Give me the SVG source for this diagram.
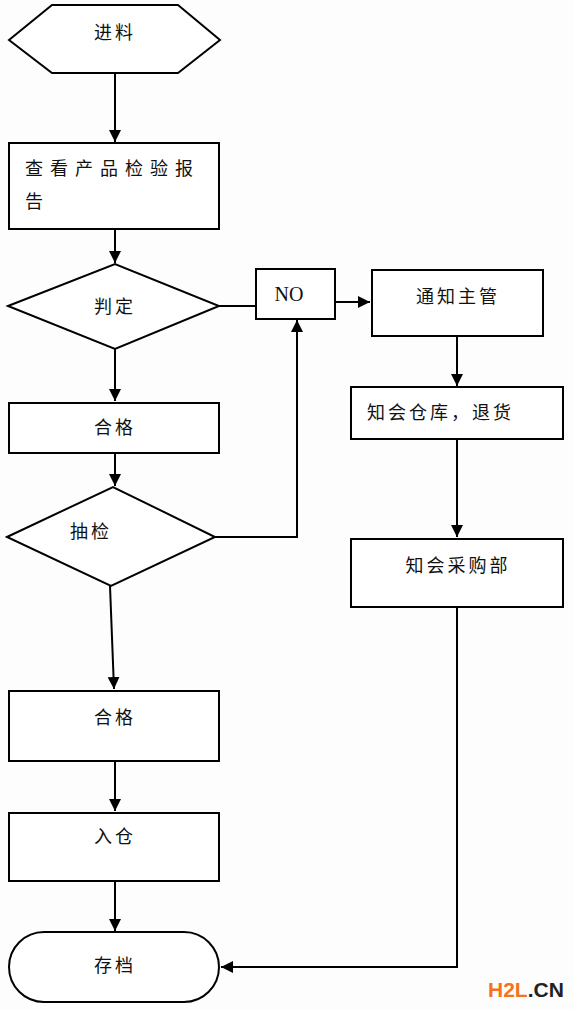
<svg xmlns="http://www.w3.org/2000/svg" width="574" height="1010" viewBox="0 0 574 1010">
<style>
.s{fill:#fff;stroke:#000;stroke-width:2}
.t{font-family:"Noto Sans CJK SC","Liberation Sans",sans-serif;font-size:18px;fill:#111;text-anchor:middle;dominant-baseline:central;letter-spacing:3px}
.c{fill:none;stroke:#000;stroke-width:2}
</style>
<defs>
<marker id="a" markerUnits="userSpaceOnUse" markerWidth="12" markerHeight="12" viewBox="0 0 12 12" refX="12" refY="6" orient="auto">
<path d="M0,0 L12,6 L0,12 Z" fill="#000"/>
</marker>
</defs>
<rect width="574" height="1010" fill="#fdfdfd"/>
<g id="connectors">
<path class="c" d="M115,73 V142" marker-end="url(#a)"/>
<path class="c" d="M115,229 V263" marker-end="url(#a)"/>
<path class="c" d="M219,306 H256"/>
<path class="c" d="M335,302 H370" marker-end="url(#a)"/>
<path class="c" d="M457,336 V386" marker-end="url(#a)"/>
<path class="c" d="M457,439 V537" marker-end="url(#a)"/>
<path class="c" d="M115,349 V401" marker-end="url(#a)"/>
<path class="c" d="M115,453 V486" marker-end="url(#a)"/>
<path class="c" d="M215,537 H297 V320" marker-end="url(#a)"/>
<path class="c" d="M110,586 L114,689" marker-end="url(#a)"/>
<path class="c" d="M115,761 V811" marker-end="url(#a)"/>
<path class="c" d="M115,881 V931" marker-end="url(#a)"/>
<path class="c" d="M457,607 V967 H221" marker-end="url(#a)"/>
</g>
<g id="n_jinliao"><polygon class="s" points="9,40 52,5 178,5 220,40 178,73 52,73"/><text class="t" x="115" y="31">进料</text></g>
<g id="n_report"><rect class="s" x="9" y="143" width="210" height="86"/><text class="t" x="25" y="167" style="text-anchor:start;letter-spacing:7px">查看产品检验报</text><text class="t" x="25" y="200" style="text-anchor:start">告</text></g>
<g id="n_judge"><polygon class="s" points="8,306 115,264 219,306 115,349"/><text class="t" x="115" y="305">判定</text></g>
<g id="n_no"><rect class="s" x="256" y="269" width="79" height="50"/><text class="t" x="289" y="294" style="font-family:'Liberation Serif',serif;font-size:20px;letter-spacing:0">NO</text></g>
<g id="n_notify"><rect class="s" x="372" y="270" width="171" height="66"/><text class="t" x="458" y="295">通知主管</text></g>
<g id="n_warehouse"><rect class="s" x="351" y="387" width="212" height="52"/><text class="t" x="367" y="411" style="text-anchor:start">知会仓库，退货</text></g>
<g id="n_purchase"><rect class="s" x="351" y="539" width="212" height="68"/><text class="t" x="458" y="564">知会采购部</text></g>
<g id="n_pass1"><rect class="s" x="9" y="403" width="210" height="50"/><text class="t" x="115" y="426">合格</text></g>
<g id="n_sample"><polygon class="s" points="7,537 113,487 215,537 111,586"/><text class="t" x="91" y="530">抽检</text></g>
<g id="n_pass2"><rect class="s" x="9" y="691" width="210" height="70"/><text class="t" x="115" y="716">合格</text></g>
<g id="n_store"><rect class="s" x="9" y="813" width="210" height="68"/><text class="t" x="115" y="835">入仓</text></g>
<g id="n_archive"><rect class="s" x="9" y="932" width="210" height="70" rx="35" ry="35"/><text class="t" x="115" y="964">存档</text></g>
<text x="488" y="997" style="font-family:'Liberation Sans',sans-serif;font-weight:bold;font-size:21px"><tspan fill="#f37321">H2L</tspan><tspan fill="#222">.CN</tspan></text>
</svg>
